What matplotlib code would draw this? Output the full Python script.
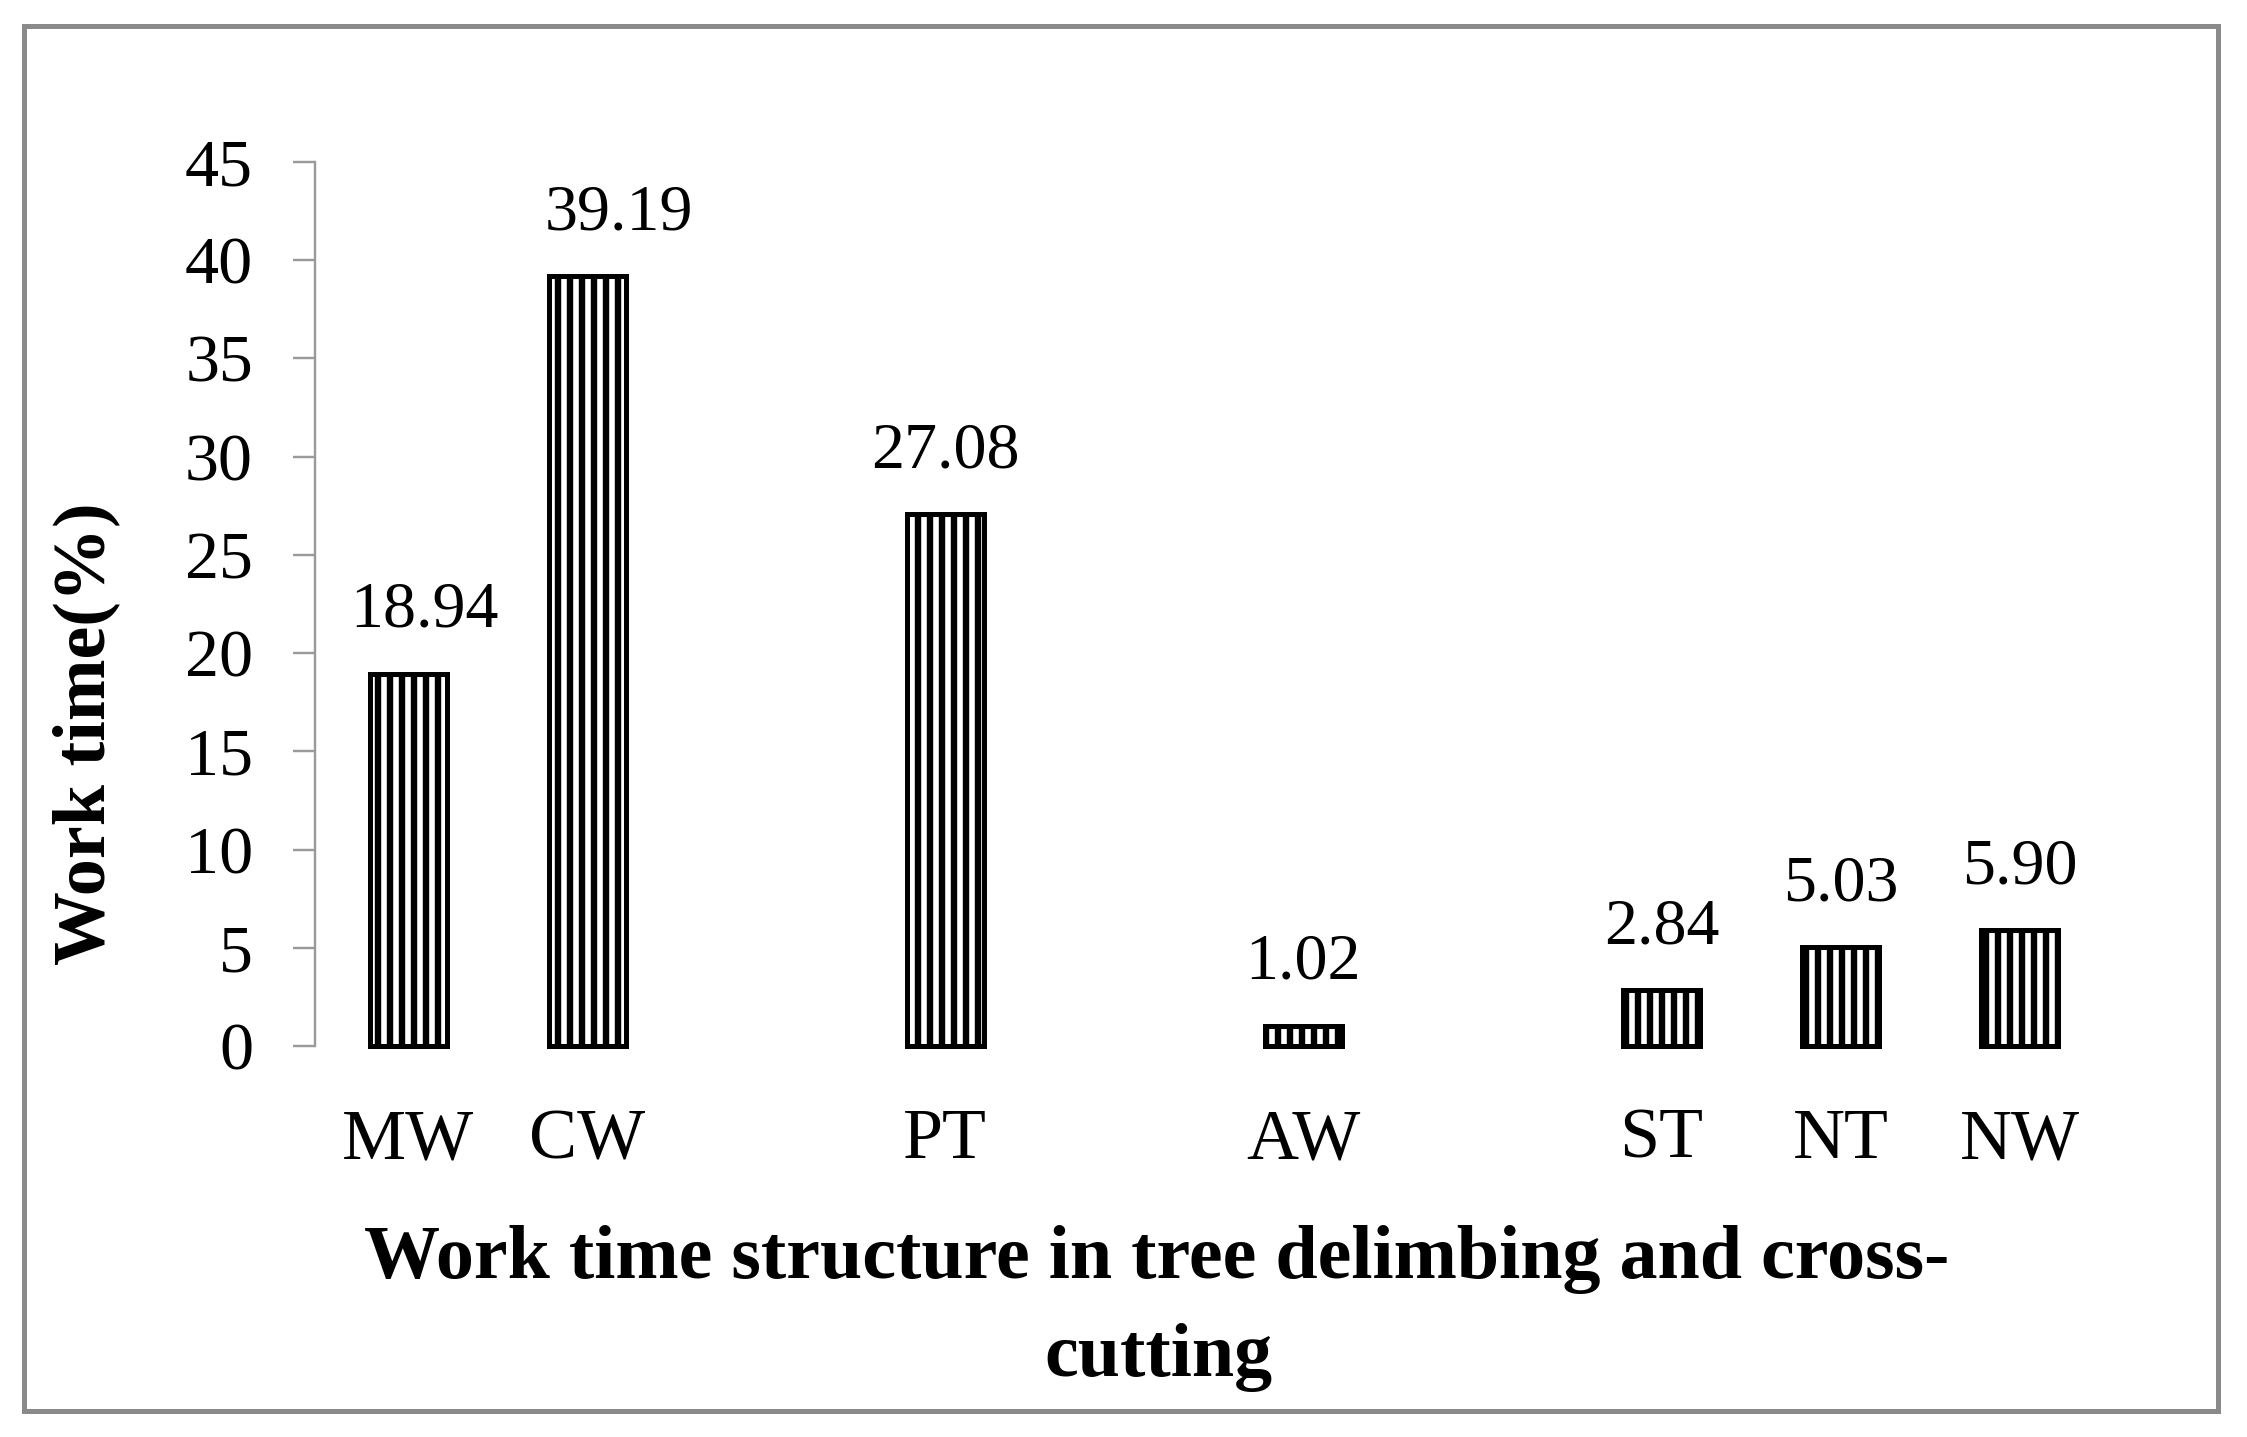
import matplotlib
matplotlib.use('Agg')
import matplotlib.pyplot as plt
from matplotlib.patches import Rectangle

categories = ['MW', 'CW', 'PT', 'AW', 'ST', 'NT', 'NW']
values = [18.94, 39.19, 27.08, 1.02, 2.84, 5.03, 5.90]
slots = [0, 1, 3, 5, 7, 8, 9]
label_dx = [0.09, 0.18, 0, 0, 0, 0, 0]
yticks = [0, 5, 10, 15, 20, 25, 30, 35, 40, 45]
ylabel = 'Work time(%)'
xtitle_1 = 'Work time structure in tree delimbing and cross-'
xtitle_2 = 'cutting'

plt.rcParams['font.family'] = ['Liberation Serif', 'DejaVu Serif']
plt.rcParams['hatch.linewidth'] = 3.2
plt.rcParams['hatch.color'] = 'black'

DPI = 144
W, H = 2247, 1437
fig = plt.figure(figsize=(W / DPI, H / DPI), dpi=DPI)
fig.patch.set_facecolor('white')

ax = fig.add_axes([315 / W, 1 - 1046 / H, (2109 - 315) / W, (1046 - 162) / H])
ax.bar(slots, values, width=0.43, color='white', edgecolor='black',
       linewidth=2.5, hatch='||', clip_on=False)
ax.set_xlim(-0.52, 9.5)
ax.set_ylim(0, 45)
ax.set_yticks(yticks)
ax.set_yticklabels([str(t) for t in yticks])
ax.tick_params(axis='y', length=11, width=1.2, color='#9a9a9a', pad=20,
               labelsize=34, labelcolor='black')
ax.set_xticks(slots)
ax.set_xticklabels(categories)
ax.tick_params(axis='x', length=0, pad=31, labelsize=36, labelcolor='black')
for s in ['top', 'right', 'bottom']:
    ax.spines[s].set_visible(False)
ax.spines['left'].set_color('#9a9a9a')
ax.spines['left'].set_linewidth(1.2)

for x, v, dx in zip(slots, values, label_dx):
    ax.annotate(f'{v:.2f}', xy=(x + dx, v), xytext=(0, 23.5),
                textcoords='offset points', ha='center', va='baseline',
                fontsize=33, color='black')

fig.text(86 / W, 1 - 734 / H, ylabel, rotation=90, ha='center', va='center',
         fontsize=37, fontweight='bold')
fig.text(1157 / W, 1 - 1278 / H, xtitle_1, ha='center', va='baseline',
         fontsize=38, fontweight='bold')
fig.text(1158 / W, 1 - 1376 / H, xtitle_2, ha='center', va='baseline',
         fontsize=38, fontweight='bold')

fig.add_artist(Rectangle((24 / W, 1 - 1411 / H), (2218 - 24) / W, (1411 - 26) / H,
                         transform=fig.transFigure, fill=False,
                         edgecolor='#8a8a8a', linewidth=2.5))

fig.savefig('out.png', dpi=DPI, facecolor='white')
